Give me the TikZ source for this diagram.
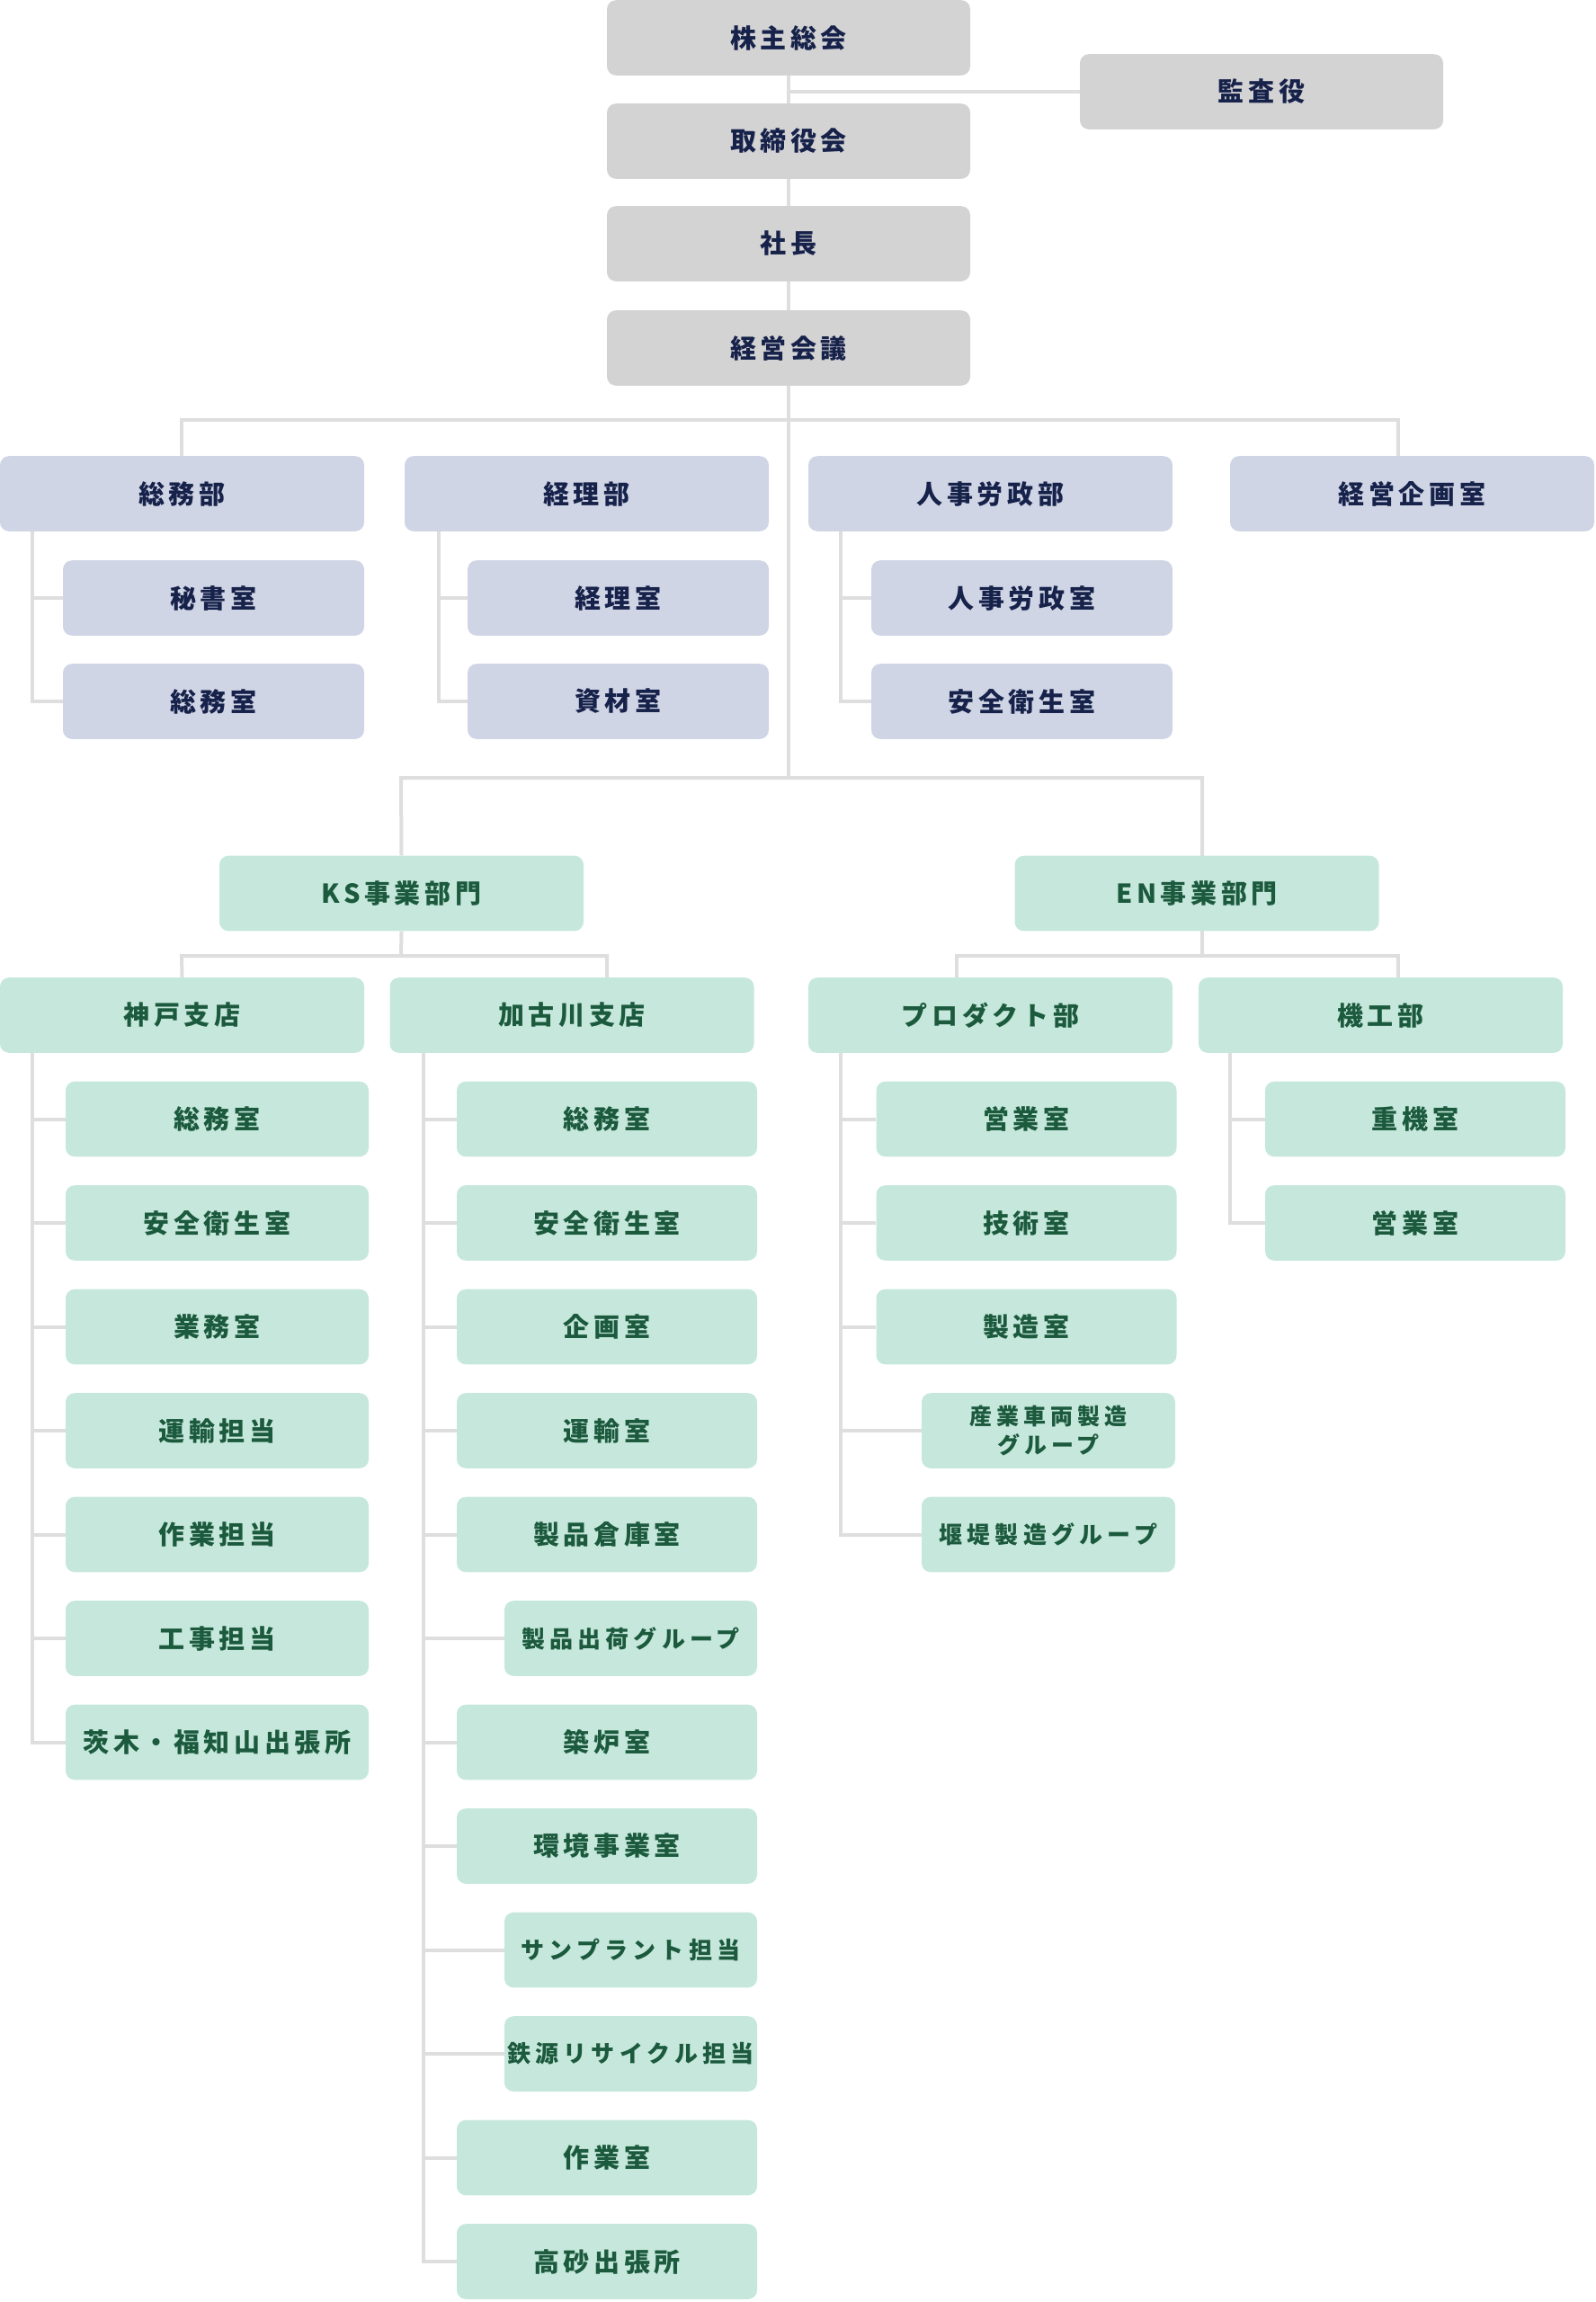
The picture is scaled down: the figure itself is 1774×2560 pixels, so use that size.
\documentclass[tikz,border=0pt]{standalone}
\usepackage{fontspec}
\usetikzlibrary{backgrounds}
\newfontfamily\jpfont{Noto Sans CJK JP}[LetterSpace=16]
\newfontfamily\jpsmall{Noto Sans CJK JP}[LetterSpace=20]
\definecolor{boxgray}{HTML}{D3D3D3}
\definecolor{boxblue}{HTML}{D0D5E5}
\definecolor{boxgreen}{HTML}{C6E8DC}
\definecolor{navytext}{HTML}{17224B}
\definecolor{greentext}{HTML}{1C5A3E}
\definecolor{connline}{HTML}{DEDEDE}
\tikzset{
  x=0.5pt, y=-0.5pt,
  box/.style={rounded corners=5pt, minimum height=41.8pt, inner sep=0pt, align=center,
    font=\jpfont\bfseries\fontsize{14.5}{17}\selectfont},
  smalltxt/.style={font=\jpsmall\bfseries\fontsize{13}{16}\selectfont},
  tinytxt/.style={font=\jpsmall\bfseries\fontsize{12.5}{16}\selectfont},
  graybox/.style={box, fill=boxgray, text=navytext, minimum width=202pt},
  bluebox/.style={box, fill=boxblue, text=navytext, minimum width=202.5pt},
  bluesub/.style={box, fill=boxblue, text=navytext, minimum width=167.5pt},
  greenbox/.style={box, fill=boxgreen, text=greentext, minimum width=202.5pt},
  kobesub/.style={box, fill=boxgreen, text=greentext, minimum width=168.5pt},
  greensub/.style={box, fill=boxgreen, text=greentext, minimum width=167pt},
  greenshort/.style={box, fill=boxgreen, text=greentext, minimum width=140.5pt, smalltxt},
  conn/.style={draw=connline, line width=2pt},
}
\begin{document}
\begin{tikzpicture}
\useasboundingbox (0,0) rectangle (1774,2560);

% ---------- junction coordinates ----------
\coordinate (kansaJ) at (877,102);
\coordinate (deptL) at (202,467);
\coordinate (deptR) at (1555,467);
\coordinate (kikakuTop) at (1555,507);
\coordinate (trunkBot) at (877,865);
\coordinate (divL) at (446,865);
\coordinate (divR) at (1337,865);
\coordinate (enTop) at (1337,952);
\coordinate (enBot) at (1337,1035);
\coordinate (ksJ) at (446,1063);
\coordinate (kobeJ) at (202,1063);
\coordinate (kakoJ) at (675,1063);
\coordinate (kakoTop) at (675,1087);
\coordinate (enJ) at (1337,1063);
\coordinate (prodJ) at (1064,1063);
\coordinate (prodTop) at (1064,1087);
\coordinate (kikoJ) at (1555,1063);
\coordinate (kikoTop) at (1555,1087);
% spines
\coordinate (somuS) at (36,591);
\coordinate (keiriS) at (488,591);
\coordinate (jinjiS) at (935,591);
\coordinate (kobeS) at (36,1171);
\coordinate (kakoS) at (471,1171);
\coordinate (prodS) at (935,1171);
\coordinate (kikoS) at (1368,1171);

% ---------- top ----------
\node[graybox] (kabu)   at (877,42)  {株主総会};
\node[graybox] (kansa)  at (1403,102) {監査役};
\node[graybox] (tori)   at (877,157) {取締役会};
\node[graybox] (shacho) at (877,271) {社長};
\node[graybox] (keiei)  at (877,387) {経営会議};

% ---------- departments ----------
\node[bluebox] (somu)   at (202.5,549)  {総務部};
\node[bluebox] (keiri)  at (652.5,549)  {経理部};
\node[bluebox] (jinji)  at (1101.5,549) {人事労政部};
\node[bluebox] (kikaku) at (1570.5,549) {経営企画室};

\node[bluesub] (hisho)  at (237.5,665) {秘書室};
\node[bluesub] (somus)  at (237.5,780) {総務室};
\node[bluesub] (keiris) at (687.5,665) {経理室};
\node[bluesub] (shizai) at (687.5,780) {資材室};
\node[bluesub] (jinjis) at (1136.5,665) {人事労政室};
\node[bluesub] (anzen)  at (1136.5,780) {安全衛生室};

% ---------- divisions ----------
\node[greenbox] (ks) at (446.5,993.5) {KS事業部門};
\node[greenbox] (en) at (1331,993.5)  {EN事業部門};

\node[greenbox] (kobe) at (202.5,1129)  {神戸支店};
\node[greenbox] (kako) at (636,1129)    {加古川支店};
\node[greenbox] (prod) at (1101.5,1129) {プロダクト部};
\node[greenbox] (kiko) at (1535.5,1129) {機工部};

% Kobe children
\node[kobesub] (kb0) at (241.5,1244.5) {総務室};
\node[kobesub] (kb1) at (241.5,1360) {安全衛生室};
\node[kobesub] (kb2) at (241.5,1475.5) {業務室};
\node[kobesub] (kb3) at (241.5,1591) {運輸担当};
\node[kobesub] (kb4) at (241.5,1706.5) {作業担当};
\node[kobesub] (kb5) at (241.5,1822) {工事担当};
\node[kobesub] (kb6) at (241.5,1937.5) {茨木・福知山出張所};

% Kakogawa children
\node[greensub] (kk0) at (675,1244.5) {総務室};
\node[greensub] (kk1) at (675,1360) {安全衛生室};
\node[greensub] (kk2) at (675,1475.5) {企画室};
\node[greensub] (kk3) at (675,1591) {運輸室};
\node[greensub] (kk4) at (675,1706.5) {製品倉庫室};
\node[greenshort] (kk5) at (701.5,1822) {製品出荷グループ};
\node[greensub] (kk6) at (675,1937.5) {築炉室};
\node[greensub] (kk7) at (675,2053) {環境事業室};
\node[greenshort] (kk8) at (701.5,2168.5) {サンプラント担当};
\node[greenshort] (kk9) at (701.5,2284) {鉄源リサイクル担当};
\node[greensub] (kk10) at (675,2399.5) {作業室};
\node[greensub] (kk11) at (675,2515) {高砂出張所};

% Product children
\node[greensub] (pd0) at (1141.5,1244.5) {営業室};
\node[greensub] (pd1) at (1141.5,1360) {技術室};
\node[greensub] (pd2) at (1141.5,1475.5) {製造室};
\node[greenshort, minimum width=141pt, tinytxt] (pd3) at (1166,1591) {産業車両製造\\グループ};
\node[greenshort, minimum width=141pt] (pd4) at (1166,1706.5) {堰堤製造グループ};

% Kiko children
\node[greensub] (kc0) at (1574,1244.5) {重機室};
\node[greensub] (kc1) at (1574,1360) {営業室};

% ---------- connectors ----------
\begin{scope}[on background layer]
  % top chain
  \draw[conn] (kabu.south) -- (tori.north);
  \draw[conn] (tori.south) -- (shacho.north);
  \draw[conn] (shacho.south) -- (keiei.north);
  \draw[conn] (kansaJ) -- (kansa.west);
  % trunk
  \draw[conn] (keiei.south) -- (trunkBot);
  \draw[conn] (somu.north -| deptL) -- (deptL) -- (deptR) -- (kikakuTop);
  % department spines
  \draw[conn] (somuS) |- (hisho.west);
  \draw[conn] (somuS) |- (somus.west);
  \draw[conn] (keiriS) |- (keiris.west);
  \draw[conn] (keiriS) |- (shizai.west);
  \draw[conn] (jinjiS) |- (jinjis.west);
  \draw[conn] (jinjiS) |- (anzen.west);
  % divisions
  \draw[conn] (ks.north) -- (divL) -- (divR) -- (enTop);
  \draw[conn] (ks.south) -- (ksJ);
  \draw[conn] (kobe.north) -- (kobeJ) -- (kakoJ) -- (kakoTop);
  \draw[conn] (enBot) -- (enJ);
  \draw[conn] (prodTop) -- (prodJ) -- (kikoJ) -- (kikoTop);
  % branch spines
  \foreach \i in {0,...,6} { \draw[conn] (kobeS) |- (kb\i.west); }
  \foreach \i in {0,...,11} { \draw[conn] (kakoS) |- (kk\i.west); }
  \foreach \i in {0,...,4} { \draw[conn] (prodS) |- (pd\i.west); }
  \foreach \i in {0,1} { \draw[conn] (kikoS) |- (kc\i.west); }
\end{scope}
\end{tikzpicture}
\end{document}
